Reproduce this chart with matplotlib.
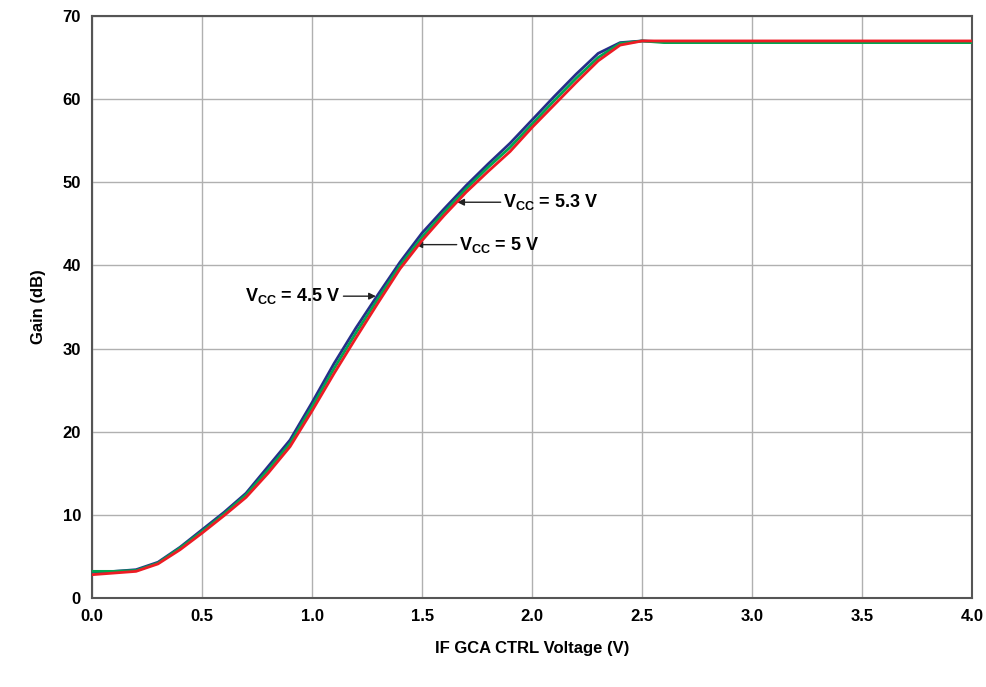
import numpy as np
import matplotlib.pyplot as plt

plt.rcParams['font.family'] = 'Liberation Sans'
plt.rcParams['font.weight'] = 'bold'
plt.rcParams['mathtext.fontset'] = 'custom'
plt.rcParams['mathtext.rm'] = 'Liberation Sans:bold'
plt.rcParams['mathtext.bf'] = 'Liberation Sans:bold'

# control voltage (V)
volts = np.round(np.arange(0, 4.01, 0.1), 1)

# gain (dB), 0..2.5 V then flat
gain_a = [3.1, 3.2, 3.4, 4.3, 6.1, 8.2, 10.3, 12.6, 15.8, 19.0, 23.5, 28.2, 32.5, 36.5,
          40.4, 43.9, 46.8, 49.6, 52.2, 54.7, 57.5, 60.3, 63.0, 65.5, 66.8, 67.0]
gain_b = [3.2, 3.2, 3.3, 4.2, 6.0, 8.0, 10.1, 12.4, 15.4, 18.6, 23.0, 27.6, 31.9, 36.0,
          40.0, 43.4, 46.4, 49.2, 51.8, 54.2, 57.0, 59.8, 62.5, 65.0, 66.7, 67.0]
gain_c = [2.8, 3.0, 3.2, 4.1, 5.8, 7.8, 9.9, 12.1, 15.0, 18.2, 22.5, 27.0, 31.3, 35.5,
          39.6, 43.0, 46.0, 48.8, 51.3, 53.7, 56.6, 59.3, 62.0, 64.6, 66.5, 67.0]
flat_a = [66.9] * 15
flat_b = [66.8] * 15
flat_c = [67.0] * 15

fig = plt.figure(figsize=(9.87, 6.87), dpi=100)
ax = fig.add_axes([0.0932, 0.1296, 0.8918, 0.8471])

ax.plot(volts, gain_a + flat_a, color='#262f8a', lw=2.0, zorder=3)
ax.plot(volts, gain_b + flat_b, color='#00a651', lw=2.0, zorder=4)
ax.plot(volts, gain_c + flat_c, color='#ed1c24', lw=2.0, zorder=5)

ax.set_xlim(0, 4)
ax.set_ylim(0, 70)
ax.set_xticks(np.arange(0, 4.01, 0.5))
ax.set_xticklabels(['%.1f' % v for v in np.arange(0, 4.01, 0.5)])
ax.set_yticks(range(0, 71, 10))
ax.tick_params(length=0, labelsize=12, pad=8)
ax.grid(color='#b0b0b0', lw=1)
for s in ax.spines.values():
    s.set_color('#555555')
    s.set_linewidth(1.5)

ax.set_xlabel('IF GCA CTRL Voltage (V)', fontsize=12, fontweight='bold', labelpad=12)
ax.set_ylabel('Gain (dB)', fontsize=12, fontweight='bold', labelpad=12)

arrow = dict(arrowstyle='-|>', color='#222222', lw=1, mutation_scale=10,
             shrinkA=0, shrinkB=0)
ax.annotate(r'V$_{\mathrm{CC}}$ = 5.3 V', xy=(1.66, 47.6), xytext=(1.87, 47.6),
            va='center', ha='left', fontsize=13, arrowprops=arrow)
ax.annotate(r'V$_{\mathrm{CC}}$ = 5 V', xy=(1.47, 42.5), xytext=(1.67, 42.5),
            va='center', ha='left', fontsize=13, arrowprops=arrow)
ax.annotate(r'V$_{\mathrm{CC}}$ = 4.5 V', xy=(1.29, 36.3), xytext=(1.13, 36.3),
            va='center', ha='right', fontsize=13, arrowprops=arrow)

fig.savefig('out.png', dpi=100)
